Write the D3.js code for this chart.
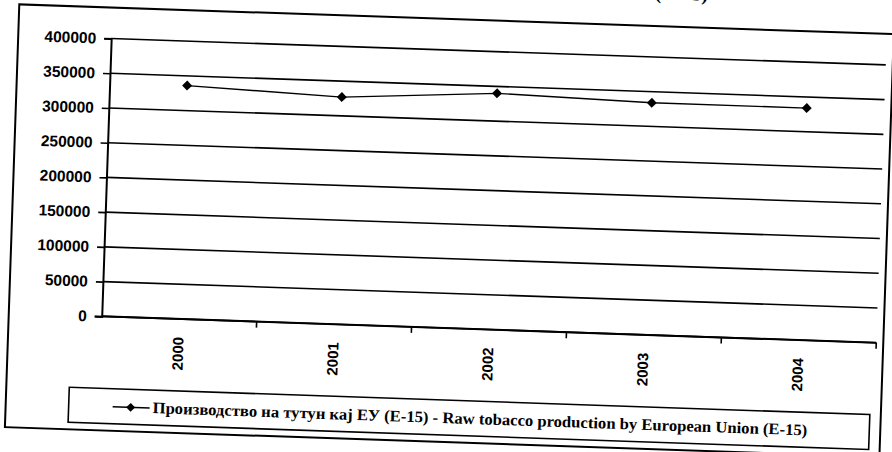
<!DOCTYPE html>
<html>
<head>
<meta charset="utf-8">
<script src="https://cdn.jsdelivr.net/npm/d3@7"></script>
<style>
  html, body { margin: 0; padding: 0; background: #fff; }
  svg { display: block; }
</style>
</head>
<body>
<svg id="chart" width="892" height="452"></svg>
<script>
const categories = ["2000", "2001", "2002", "2003", "2004"];
const values = [336000, 327000, 340000, 334000, 334000];
const yTicks = [0, 50000, 100000, 150000, 200000, 250000, 300000, 350000, 400000];
const seriesLabel = "Производство на тутун кај ЕУ (Е-15) - Raw tobacco production by European Union (E-15)";
const titleText = "Raw tobacco production by European Union (E-15)";

const SERIF = "'Liberation Serif', 'DejaVu Serif', 'Noto Serif', serif";
const SANS = "'Liberation Sans', Arial, Helvetica, sans-serif";

const W = 892, H = 452;
const svg = d3.select("#chart");
svg.append("rect").attr("width", W).attr("height", H).attr("fill", "#fff");

// whole scanned page is slightly rotated
const g = svg.append("g").attr("transform", "rotate(1.95,446,226)");

const plot = { left: 105, right: 880, top: 50, bottom: 328 };

// partially visible title at top (cut off by scan)
g.append("text")
  .style("font-family", SERIF)
  .attr("x", 700).attr("y", -8)
  .attr("text-anchor", "end")
  .attr("font-weight", "bold")
  .attr("font-size", 20)
  .attr("fill", "#000")
  .text(titleText);

// outer frame
g.append("rect")
  .attr("x", 12).attr("y", 19).attr("width", 875).attr("height", 423)
  .attr("fill", "none").attr("stroke", "#000").attr("stroke-width", 2);

const x = d3.scaleBand().domain(categories).range([plot.left, plot.right]).paddingInner(0).paddingOuter(0);
const y = d3.scaleLinear().domain([0, 400000]).range([plot.bottom, plot.top]);

// gridlines
g.append("g").selectAll("line").data(yTicks).join("line")
  .attr("x1", plot.left).attr("x2", plot.right)
  .attr("y1", d => y(d)).attr("y2", d => y(d))
  .attr("stroke", "#000").attr("stroke-width", 1.6);

// y axis
const yAxis = g.append("g")
  .attr("transform", `translate(${plot.left},0)`)
  .call(d3.axisLeft(y).tickValues(yTicks).tickSize(7).tickPadding(8).tickFormat(d3.format("d")));
yAxis.attr("font-family", null).attr("font-size", null);
yAxis.select(".domain").attr("stroke", "#000").attr("stroke-width", 2);
yAxis.selectAll(".tick line").attr("stroke", "#000").attr("stroke-width", 1.6);
yAxis.selectAll(".tick text")
  .style("font-family", SANS)
  .attr("font-weight", "bold").attr("font-size", 15.5).attr("fill", "#000");

// x axis: ticks at category boundaries
const bounds = categories.slice(1).map(c => x(c)).concat([x(categories[categories.length - 1]) + x.bandwidth()]);
g.append("line")
  .attr("x1", plot.left).attr("x2", plot.right)
  .attr("y1", y(0)).attr("y2", y(0))
  .attr("stroke", "#000").attr("stroke-width", 2);
g.append("g").selectAll("line").data(bounds).join("line")
  .attr("x1", d => d).attr("x2", d => d)
  .attr("y1", y(0)).attr("y2", y(0) + 6)
  .attr("stroke", "#000").attr("stroke-width", 1.6);
g.append("g").selectAll("text").data(categories).join("text")
  .style("font-family", SANS)
  .attr("transform", d => `translate(${x(d) + x.bandwidth() / 2 + 5},${y(0) + 18}) rotate(-90)`)
  .attr("text-anchor", "end")
  .attr("font-weight", "bold").attr("font-size", 15).attr("fill", "#000")
  .text(d => d);

// series line
const pts = categories.map((c, i) => [x(c) + x.bandwidth() / 2, y(values[i])]);
g.append("path")
  .attr("d", d3.line()(pts))
  .attr("fill", "none").attr("stroke", "#000").attr("stroke-width", 1.4);
const diamond = r => `M0,${-r}L${r},0L0,${r}L${-r},0Z`;
g.append("g").selectAll("path").data(pts).join("path")
  .attr("transform", d => `translate(${d[0]},${d[1]})`)
  .attr("d", diamond(5)).attr("fill", "#000");

// legend
const lg = g.append("g");
lg.append("rect")
  .attr("x", 75).attr("y", 400).attr("width", 801).attr("height", 35)
  .attr("fill", "none").attr("stroke", "#000").attr("stroke-width", 1.6);
lg.append("line").attr("x1", 119).attr("x2", 156).attr("y1", 418).attr("y2", 418)
  .attr("stroke", "#000").attr("stroke-width", 1.4);
lg.append("path").attr("transform", "translate(137,418)").attr("d", diamond(4.5)).attr("fill", "#000");
lg.append("text")
  .style("font-family", SERIF)
  .attr("x", 159).attr("y", 423)
  .attr("font-weight", "bold").attr("font-size", 16).attr("fill", "#000")
  .attr("textLength", 655).attr("lengthAdjust", "spacingAndGlyphs")
  .text(seriesLabel);
</script>
</body>
</html>
